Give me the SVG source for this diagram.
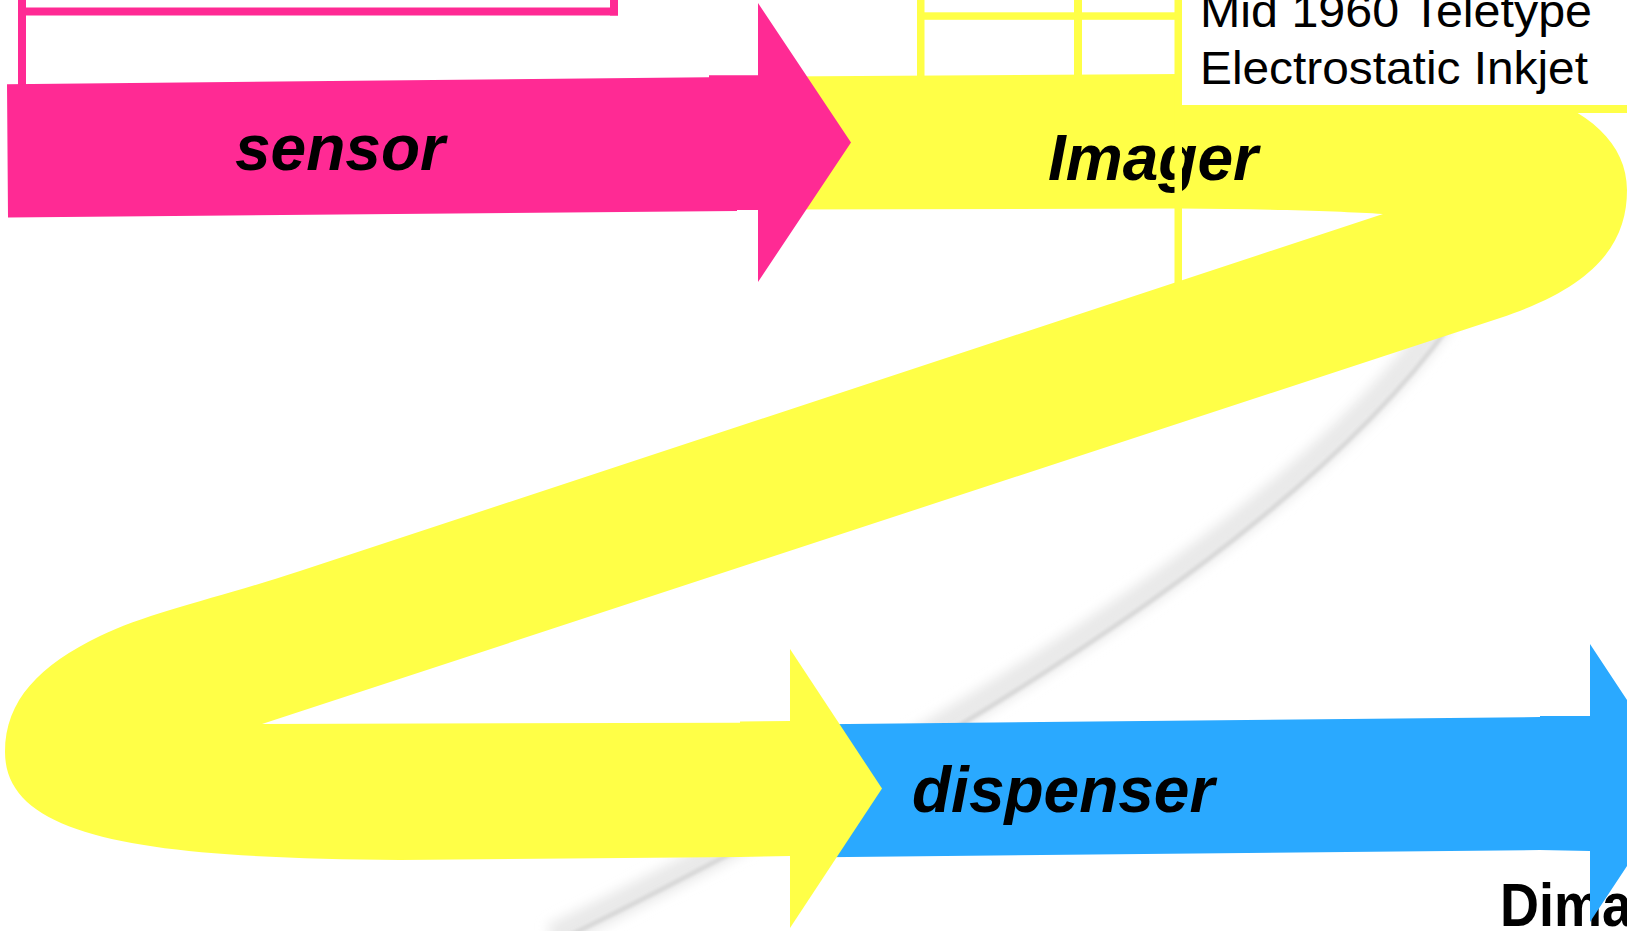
<svg xmlns="http://www.w3.org/2000/svg" width="1627" height="931" viewBox="0 0 1627 931">
<defs>
<style>
.pink{fill:#FF2A94}
.yel{fill:#FFFF47}
.blue{fill:#2AA9FF}
.lbl{font-family:"Liberation Sans",Arial,sans-serif;font-weight:bold;font-style:italic;font-size:64px;fill:#000}
.cell{font-family:"Liberation Sans",Arial,sans-serif;font-size:47px;fill:#000}
.brand{font-family:"Liberation Sans",Arial,sans-serif;font-weight:bold;font-size:54px;fill:#000}
</style>
<filter id="blurWide" x="-20%" y="-20%" width="140%" height="140%"><feGaussianBlur stdDeviation="6"/></filter>
<filter id="blurCore" x="-20%" y="-20%" width="140%" height="140%"><feGaussianBlur stdDeviation="1.8"/></filter>
</defs>
<rect x="0" y="0" width="1627" height="931" fill="#fff"/>

<g id="shadow" fill="none">
<path d="M1442,320 C1352,445 1192,575 952,720 C862,775 712,860 552,937" stroke="#e9e9e9" stroke-width="26" filter="url(#blurWide)"/>
<path d="M1450,325 C1360,450 1200,580 960,725 C870,780 700,872 560,940" stroke="#d8d8d8" stroke-width="4.5" filter="url(#blurCore)"/>
</g>

<g id="pink-table" class="pink">
<rect x="18" y="-5" width="8" height="91"/>
<rect x="18" y="7.5" width="600" height="8"/>
<rect x="610" y="-5" width="8" height="20.5"/>
</g>

<g id="connectors">
<g id="dispenser-arrow">
<text class="brand" transform="translate(1500,926) scale(1,1.14)" x="0" y="0">Dima</text>
<path class="blue" d="M800,724.5 L1540,717 L1540,716 L1590,716 L1590,644 L1682,783 L1590,922 L1590,851 L1540,850 L800,857.5 Z"/>
</g>
<g id="imager-arrow">
<path class="yel" d="M780,76.5 L1180,74 L1400,74 C1540,76 1627,120 1627,190 C1627,240 1600,285 1500,318 L262,724 L740,722.7 L740,721.5 L790,721 L790,856 L740,857 L400,860 C150,858 5,840 5,752 C5,700 40,665 100,636 C150,612 220,597.4 300,571 L1383,214 C1340,211 1260,209 1180,208.5 L780,209.5 Z"/>
<polygon class="yel" points="790,649 882,788.5 790,928"/>
</g>
<g id="sensor-arrow">
<path class="pink" d="M7,84.3 L709,77.3 L709,75.3 L758,75.3 L758,3 L851,142.5 L758,282 L758,210 L737,210 L737,211 L8,217.5 Z"/>
</g>
</g>

<g id="sensor"><text class="lbl" x="235" y="170">sensor</text></g>
<g id="dispenser"><text class="lbl" x="912" y="812">dispenser</text></g>
<g id="imager"><text class="lbl" x="1048" y="180">Imager</text></g>

<g id="yellow-table">
<rect x="1182" y="-5" width="450" height="110" fill="#fff"/>
<rect class="yel" x="917" y="-5" width="7.5" height="82"/>
<rect class="yel" x="1074" y="-5" width="8" height="82"/>
<rect class="yel" x="1174.5" y="-5" width="7.5" height="292"/>
<rect class="yel" x="917" y="12.3" width="265" height="7.5"/>
<rect class="yel" x="1178" y="105" width="449" height="8"/>
<text class="cell" x="1200" y="27" textLength="392" lengthAdjust="spacingAndGlyphs">Mid 1960 Teletype</text>
<text class="cell" x="1200" y="83.5" textLength="388" lengthAdjust="spacingAndGlyphs">Electrostatic Inkjet</text>
</g>
</svg>
